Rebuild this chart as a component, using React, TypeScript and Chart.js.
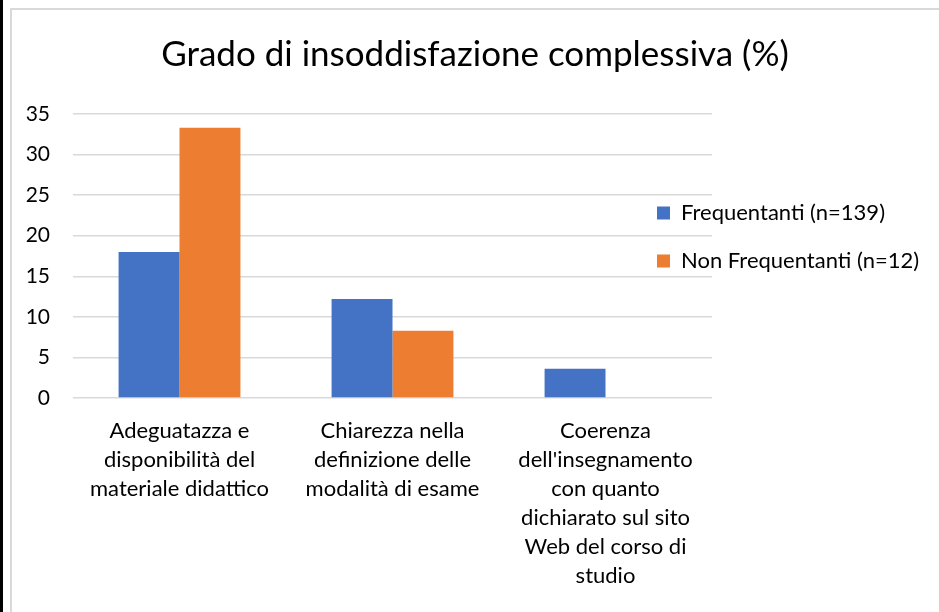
import React, { useEffect, useRef } from "react";
import { Chart, registerables } from "chart.js";

Chart.register(...registerables);

const TITLE = "Grado di insoddisfazione complessiva (%)";
const categories: string[][] = [
  ["Adeguatazza e", "disponibilità del", "materiale didattico"],
  ["Chiarezza nella", "definizione delle", "modalità di esame"],
  ["Coerenza", "dell'insegnamento", "con quanto", "dichiarato sul sito", "Web del corso di", "studio"],
];
const seriesNames = ["Frequentanti (n=139)", "Non Frequentanti (n=12)"];
const frequentanti = [18.0, 12.2, 3.6];
const nonFrequentanti = [33.3, 8.3, 0];
const yMin = 0;
const yMax = 35;
const yStep = 5;

const W = 939;
const H = 612;
const FONT = "Lato, 'Open Sans', sans-serif";
const LEGEND_FONT = 22;

const legendPlacer = {
  id: "legendPlacer",
  afterInit(chart: any) {
    const lg = chart.legend;
    if (lg) {
      const origFit = lg.fit;
      lg.fit = function () {
        origFit.call(this);
        this.width = W - 712;
      };
    }
  },
  afterLayout(chart: any) {
    const lg = chart.legend;
    if (!lg) return;
    const pad = lg.options.labels.padding;
    const h = lg.height;
    lg.left = 657 - pad;
    lg.right = W;
    lg.width = W - lg.left;
    lg.top = 213 - LEGEND_FONT / 2 - pad;
    lg.bottom = lg.top + h;
  },
};

export default function App() {
  const ref = useRef<HTMLCanvasElement | null>(null);

  useEffect(() => {
    if (!ref.current) return;
    const chart = new Chart(ref.current, {
      type: "bar",
      data: {
        labels: categories,
        datasets: [
          {
            label: seriesNames[0],
            data: frequentanti,
            backgroundColor: "#4472C4",
            borderWidth: 0,
            barPercentage: 1,
            categoryPercentage: 0.572,
          },
          {
            label: seriesNames[1],
            data: nonFrequentanti,
            backgroundColor: "#ED7D31",
            borderWidth: 0,
            barPercentage: 1,
            categoryPercentage: 0.572,
          },
        ],
      },
      options: {
        responsive: false,
        animation: false,
        layout: { padding: { left: 11, right: 0, top: 0, bottom: 0 } },
        plugins: {
          title: {
            display: true,
            text: TITLE,
            color: "#000",
            font: { family: FONT, size: 35, weight: "normal", lineHeight: 1.2 },
            padding: { top: 34, bottom: 38 },
          },
          legend: {
            position: "right",
            align: "start",
            labels: {
              boxWidth: 13,
              boxHeight: 13,
              padding: 48 - LEGEND_FONT,
              color: "#000",
              font: { family: FONT, size: LEGEND_FONT },
            },
          },
          tooltip: { enabled: false },
        },
        scales: {
          x: {
            grid: { display: false, drawTicks: false },
            border: { display: false },
            ticks: {
              color: "#000",
              padding: 18,
              maxRotation: 0,
              minRotation: 0,
              autoSkip: false,
              font: { family: FONT, size: 22, lineHeight: 1.32 },
            },
            afterFit: (s: any) => {
              s.height = H - 398;
              s.paddingLeft = 0;
              s.paddingRight = 0;
            },
          },
          y: {
            min: yMin,
            max: yMax,
            ticks: {
              stepSize: yStep,
              color: "#000",
              padding: 23,
              font: { family: FONT, size: 21 },
            },
            grid: { color: "#d9d9d9", lineWidth: 1.5, drawTicks: false },
            border: { display: false },
            afterFit: (s: any) => {
              s.width = 73 - 11;
            },
          },
        },
      },
      plugins: [legendPlacer],
    });
    return () => chart.destroy();
  }, []);

  return (
    <div
      style={{
        position: "fixed",
        left: 0,
        top: 0,
        width: W,
        height: H,
        background: "#fff",
        overflow: "hidden",
      }}
    >
      <canvas
        ref={ref}
        width={W}
        height={H}
        style={{ position: "absolute", left: 0, top: 0, width: W, height: H }}
      />
      <div style={{ position: "absolute", left: 0, top: 0, width: 3, height: H, background: "#000" }} />
      <div
        style={{
          position: "absolute",
          left: 10,
          top: 8,
          width: W - 10,
          height: H - 8,
          borderLeft: "2px solid #d9d9d9",
          borderTop: "2px solid #d9d9d9",
          boxSizing: "border-box",
          pointerEvents: "none",
        }}
      />
    </div>
  );
}
